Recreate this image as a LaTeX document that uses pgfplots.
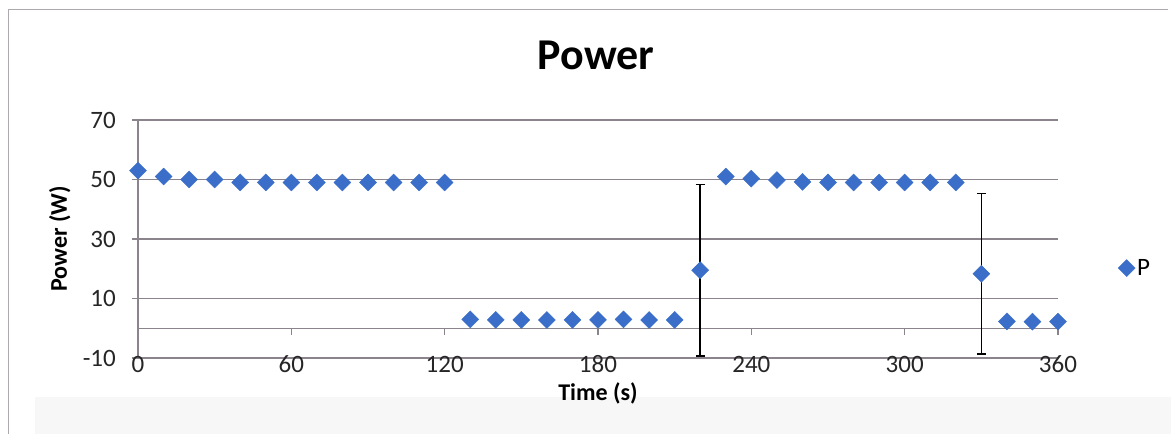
\documentclass[border=0pt]{standalone}
\usepackage{pgfplots}
\pgfplotsset{compat=1.18}
\usepackage{pgfplotstable}
\usepackage{fontspec}
\setmainfont{Carlito}
\definecolor{gridc}{RGB}{140,132,140}
\definecolor{mblue}{RGB}{58,110,200}
\pgfplotstableread{
t p
0 53
10 51
20 50
30 50
40 49
50 49
60 49
70 49
80 49
90 49
100 49
110 49
120 49
130 3
140 2.8
150 2.8
160 2.8
170 2.8
180 2.8
190 3
200 2.8
210 2.8
230 51
240 50.3
250 49.8
260 49.2
270 49
280 49
290 49
300 49
310 49
320 49
340 2.3
350 2.2
360 2.2
}\mainpts
\pgfplotstableread{
t p e
220 19.5 28.8
330 18.3 27.0
}\errpts
\begin{document}
\begin{tikzpicture}[x=1pt,y=1pt]
\path[use as bounding box] (0,0) rectangle (1171,434);
\fill[black!3] (35,0) rectangle (1171,37);
\draw[gridc!70, line width=1pt] (8,0) -- (8,424) -- (1168,424);
\begin{axis}[
  at={(138pt,76pt)}, anchor=south west, scale only axis,
  width=920pt, height=238pt,
  xmin=0, xmax=360, ymin=-10, ymax=70,
  xtick={0,60,...,360}, ytick={-10,10,30,50,70},
  /pgf/number format/assume math mode=true,
  axis lines*=left, axis line style={gridc, line width=1.3pt},
  ymajorgrids, grid style={gridc, line width=1.3pt},
  xtick style={draw=none}, ytick style={gridc, line width=1.3pt},
  tick align=outside, major tick length=6pt,
  ticklabel style={font=\fontsize{25}{25}\selectfont, text=black!85},
  xticklabel style={anchor=center, inner sep=0pt},
  yticklabel style={anchor=east, inner sep=0pt, xshift=-16pt},
  clip=false,
  title={Power},
  title style={at={(axis description cs:0.498,1.189)}, anchor=base, font=\fontsize{44}{44}\selectfont\bfseries},
  xlabel={Time (s)},
  xlabel style={at={(axis description cs:0.5,-0.1765)}, anchor=base, font=\fontsize{24}{24}\selectfont\bfseries},
  ylabel={Power (W)},
  ylabel style={at={(axis description cs:-0.0772,0.5)}, anchor=base, font=\fontsize{24}{24}\selectfont\bfseries},
  legend style={at={(1.062,0.378)}, anchor=west, draw=none, fill=none, font=\fontsize{25}{25}\selectfont},
  legend cell align=left,
]
\draw[gridc, line width=1.3pt] (axis cs:0,0) -- (axis cs:360,0);
\pgfplotsinvokeforeach{60,120,180,240,300,360}{
  \draw[gridc, line width=1.3pt] (axis cs:#1,0) -- ([yshift=-7pt]axis cs:#1,0);
}
\addplot[only marks, mark=square*, mark size=6pt, mark options={rotate=45, fill=mblue, draw=mblue}]
  table[x=t, y=p]{\mainpts};
\addlegendentry{P}
\addplot[only marks, mark=square*, mark size=6pt, mark options={rotate=45, fill=mblue, draw=mblue},
  error bars/.cd, y dir=both, y explicit,
  error bar style={black, line width=1.6pt},
  error mark options={rotate=90, mark size=4.5pt, black, line width=1.6pt}]
  table[x=t, y=p, y error=e]{\errpts};
\end{axis}
\end{tikzpicture}
\end{document}
